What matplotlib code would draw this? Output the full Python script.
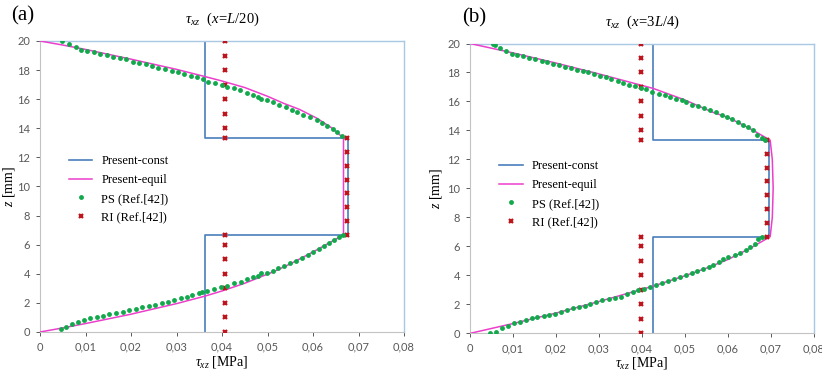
import matplotlib.pyplot as plt
from matplotlib.ticker import FuncFormatter

# ---- panel (a): x = L/20 ----
a_const_tau = [0.0363, 0.0363, 0.0677, 0.0677, 0.0363, 0.0363]
a_const_z = [0.0, 6.67, 6.67, 13.33, 13.33, 20.0]

a_equil_tau = [0.0, 0.005, 0.010, 0.0198, 0.030, 0.0363, 0.040, 0.045, 0.0513, 0.055, 0.060, 0.064, 0.0667,
               0.0667,
               0.064, 0.0608, 0.057, 0.0535, 0.050, 0.045, 0.040, 0.0363, 0.030, 0.020, 0.010, 0.005, 0.0]
a_equil_z = [0.0, 0.28, 0.58, 1.21, 1.95, 2.47, 2.82, 3.35, 4.14, 4.68, 5.5, 6.2, 6.67,
             13.33,
             14.05, 14.7, 15.3, 15.72, 16.2, 16.8, 17.25, 17.55, 18.05, 18.75, 19.42, 19.72, 20.0]

a_ps_tau = [0.0046, 0.0057, 0.0071, 0.0084, 0.0097, 0.0110, 0.0125, 0.0138, 0.0152, 0.0167,
            0.0182, 0.0196, 0.0210, 0.0224, 0.0239, 0.0253, 0.0267, 0.0282, 0.0295, 0.0309,
            0.0322, 0.0335, 0.0349, 0.0355, 0.0368, 0.0383, 0.0398, 0.0412, 0.0427, 0.0441,
            0.0454, 0.0467, 0.0480, 0.0486, 0.0498, 0.0513, 0.0524, 0.0537, 0.0550, 0.0563,
            0.0576, 0.0589, 0.0601, 0.0613, 0.0625, 0.0636, 0.0647, 0.0657, 0.0665,
            0.0663, 0.0653, 0.0643, 0.0630, 0.0619, 0.0608, 0.0593, 0.0579, 0.0564, 0.0553,
            0.0540, 0.0526, 0.0513, 0.0498, 0.0485, 0.0480, 0.0467, 0.0454, 0.0440, 0.0426,
            0.0412, 0.0399, 0.0385, 0.0370, 0.0358, 0.0344, 0.0331, 0.0316, 0.0303, 0.0289,
            0.0275, 0.0260, 0.0246, 0.0232, 0.0218, 0.0204, 0.0190, 0.0176, 0.0161, 0.0147,
            0.0132, 0.0119, 0.0104, 0.0090, 0.0078, 0.0064, 0.0048]
a_ps_z = [0.18, 0.37, 0.55, 0.66, 0.83, 0.94, 1.01, 1.10, 1.21, 1.28,
          1.40, 1.49, 1.56, 1.74, 1.79, 1.88, 1.97, 2.08, 2.20, 2.31,
          2.43, 2.54, 2.66, 2.73, 2.84, 2.96, 3.07, 3.18, 3.35, 3.46,
          3.62, 3.76, 3.87, 4.08, 4.03, 4.21, 4.38, 4.55, 4.72, 4.90,
          5.08, 5.28, 5.48, 5.68, 5.90, 6.10, 6.32, 6.52, 6.67,
          13.47, 13.77, 13.97, 14.16, 14.34, 14.57, 14.75, 14.91, 15.12, 15.26,
          15.44, 15.60, 15.79, 15.95, 15.99, 16.13, 16.29, 16.45, 16.63, 16.75,
          16.84, 16.95, 17.09, 17.20, 17.37, 17.50, 17.61, 17.73, 17.87, 17.96,
          18.08, 18.16, 18.28, 18.40, 18.47, 18.58, 18.74, 18.83, 18.92, 19.02,
          19.10, 19.22, 19.31, 19.40, 19.61, 19.77, 20.0]

a_ri_tau = [0.0407] * 8 + [0.0675] * 8 + [0.0407] * 8
a_ri_z = [0, 1, 2, 3, 4, 5, 6, 6.67,
          6.67, 7.62, 8.57, 9.52, 10.48, 11.43, 12.38, 13.33,
          13.33, 14, 15, 16, 17, 18, 19, 20]

# ---- panel (b): x = 3L/4 ----
b_const_tau = [0.0426, 0.0426, 0.0695, 0.0695, 0.0426, 0.0426]
b_const_z = [0.0, 6.67, 6.67, 13.33, 13.33, 20.0]

b_equil_tau = [0.0, 0.005, 0.010, 0.020, 0.030, 0.0426, 0.050, 0.055, 0.060, 0.065, 0.0698,
               0.0703, 0.0705, 0.0703,
               0.0698, 0.065, 0.060, 0.0565, 0.050, 0.0426, 0.030, 0.020, 0.010, 0.0]
b_equil_z = [0.0, 0.34, 0.68, 1.40, 2.20, 3.26, 3.98, 4.50, 5.10, 5.85, 6.67,
             8.0, 10.0, 12.0,
             13.33, 14.15, 14.9, 15.25, 16.1, 16.9, 17.9, 18.65, 19.35, 20.0]

b_ps_tau = [0.0046, 0.0060, 0.0075, 0.0089, 0.0102, 0.0116, 0.0130, 0.0143, 0.0156, 0.0172,
            0.0184, 0.0197, 0.0211, 0.0226, 0.0240, 0.0253, 0.0267, 0.0280, 0.0294, 0.0308,
            0.0323, 0.0337, 0.0351, 0.0364, 0.0378, 0.0391, 0.0405, 0.0418, 0.0432, 0.0447,
            0.0461, 0.0475, 0.0488, 0.0502, 0.0516, 0.0529, 0.0542, 0.0556, 0.0566, 0.0578,
            0.0589, 0.0600, 0.0616, 0.0627, 0.0641, 0.0652, 0.0662, 0.0670, 0.0680,
            0.0685, 0.0678, 0.0668, 0.0658, 0.0647, 0.0635, 0.0623, 0.0610, 0.0598, 0.0585,
            0.0572, 0.0558, 0.0544, 0.0530, 0.0517, 0.0503, 0.0492, 0.0478, 0.0465, 0.0453,
            0.0440, 0.0424, 0.0410, 0.0397, 0.0383, 0.0370, 0.0356, 0.0343, 0.0329, 0.0316,
            0.0302, 0.0289, 0.0275, 0.0262, 0.0248, 0.0235, 0.0221, 0.0207, 0.0194, 0.0180,
            0.0167, 0.0151, 0.0137, 0.0124, 0.0110, 0.0097, 0.0083, 0.0070, 0.0058, 0.0053]
b_ps_z = [0.0, 0.11, 0.34, 0.50, 0.69, 0.80, 0.92, 1.03, 1.10, 1.19,
          1.26, 1.35, 1.45, 1.61, 1.72, 1.84, 1.88, 2.02, 2.18, 2.30,
          2.37, 2.46, 2.53, 2.71, 2.83, 2.99, 3.08, 3.22, 3.33, 3.49,
          3.61, 3.72, 3.90, 4.02, 4.18, 4.32, 4.43, 4.59, 4.72, 4.90,
          5.10, 5.24, 5.40, 5.56, 5.74, 5.97, 6.20, 6.48, 6.67,
          13.33, 13.49, 13.68, 14.02, 14.25, 14.41, 14.59, 14.78, 14.94, 15.10,
          15.24, 15.40, 15.52, 15.68, 15.79, 15.93, 16.09, 16.20, 16.32, 16.43,
          16.55, 16.66, 16.83, 16.94, 17.06, 17.12, 17.28, 17.42, 17.54, 17.66,
          17.77, 17.88, 18.00, 18.09, 18.16, 18.28, 18.39, 18.50, 18.62, 18.69,
          18.80, 18.92, 19.03, 19.12, 19.19, 19.31, 19.47, 19.66, 19.88, 20.0]

b_ri_tau = [0.0397] * 8 + [0.0690] * 8 + [0.0397] * 8
b_ri_z = a_ri_z

x_ticks = [0, 0.01, 0.02, 0.03, 0.04, 0.05, 0.06, 0.07, 0.08]
y_ticks = [0, 2, 4, 6, 8, 10, 12, 14, 16, 18, 20]

BLUE = "#4a7ebb"
PINK = "#ec3fcb"
GREEN = "#12a84c"
RED = "#c0141c"
SERIF = "Liberation Serif"
SANS = "Lato"


def comma_fmt(v, pos):
    if abs(v) < 1e-12:
        return "0"
    return ("%.2f" % v).replace(".", ",")


def draw_panel(ax, const_t, const_z, eq_t, eq_z, ps_t, ps_z, ri_t, ri_z,
               title, ylab_x, legend_anchor):
    ax.plot(const_t, const_z, color=BLUE, lw=1.2, label="Present-const", zorder=2)
    ax.plot(eq_t, eq_z, color=PINK, lw=1.1, label="Present-equil", zorder=3)
    ax.plot(ps_t, ps_z, ls="none", marker="o", ms=3.5, color=GREEN, mec="none",
            label="PS (Ref.[42])", zorder=5)
    ax.plot(ri_t, ri_z, ls="none", marker="x", ms=3.2, mew=1.6, color=RED,
            label="RI (Ref.[42])", zorder=4)

    ax.set_xlim(0, 0.08)
    ax.set_ylim(0, 20)
    ax.set_xticks(x_ticks)
    ax.set_yticks(y_ticks)
    ax.xaxis.set_major_formatter(FuncFormatter(comma_fmt))
    ax.tick_params(labelsize=8, colors="#595959", length=3, width=0.7,
                   direction="out", pad=4)
    for lab in ax.get_xticklabels() + ax.get_yticklabels():
        lab.set_family(SANS)
    for side in ("left", "bottom"):
        ax.spines[side].set_color("#c3c3c3")
        ax.spines[side].set_linewidth(0.8)
    for side in ("top", "right"):
        ax.spines[side].set_color("#a8c8e4")
        ax.spines[side].set_linewidth(1.0)

    ax.set_xlabel(r"$\tau_{xz}$ [MPa]", fontsize=10, family=SERIF, labelpad=1)
    ax.set_ylabel(r"$z$ [mm]", fontsize=10, family=SERIF)
    ax.yaxis.set_label_coords(ylab_x, 0.5)
    ax.set_title(title, fontsize=10.5, family=SERIF, pad=13)

    ax.legend(loc="upper left", bbox_to_anchor=legend_anchor, frameon=False,
              prop={"family": SERIF, "size": 9}, handlelength=1.9,
              labelspacing=0.55, handletextpad=0.7, borderaxespad=0)


plt.rcParams["mathtext.fontset"] = "custom"
plt.rcParams["mathtext.rm"] = SERIF
plt.rcParams["mathtext.it"] = SERIF + ":italic"
plt.rcParams["font.family"] = SERIF

fig = plt.figure(figsize=(8.22, 3.75), dpi=100)
ax_a = fig.add_axes([0.0487, 0.1147, 0.4428, 0.776])
ax_b = fig.add_axes([0.5718, 0.1110, 0.4185, 0.773])

draw_panel(ax_a, a_const_tau, a_const_z, a_equil_tau, a_equil_z,
           a_ps_tau, a_ps_z, a_ri_tau, a_ri_z,
           r"$\tau_{xz}$  $(x\!=\!L/20)$", -0.062, (0.065, 0.625))
draw_panel(ax_b, b_const_tau, b_const_z, b_equil_tau, b_equil_z,
           b_ps_tau, b_ps_z, b_ri_tau, b_ri_z,
           r"$\tau_{xz}$  $(x\!=\!3L/4)$", -0.075, (0.07, 0.615))

fig.text(0.014, 0.958, "(a)", fontsize=15, family=SERIF, ha="left", va="center")
fig.text(0.562, 0.952, "(b)", fontsize=15, family=SERIF, ha="left", va="center")

fig.savefig("out.png", dpi=100)
